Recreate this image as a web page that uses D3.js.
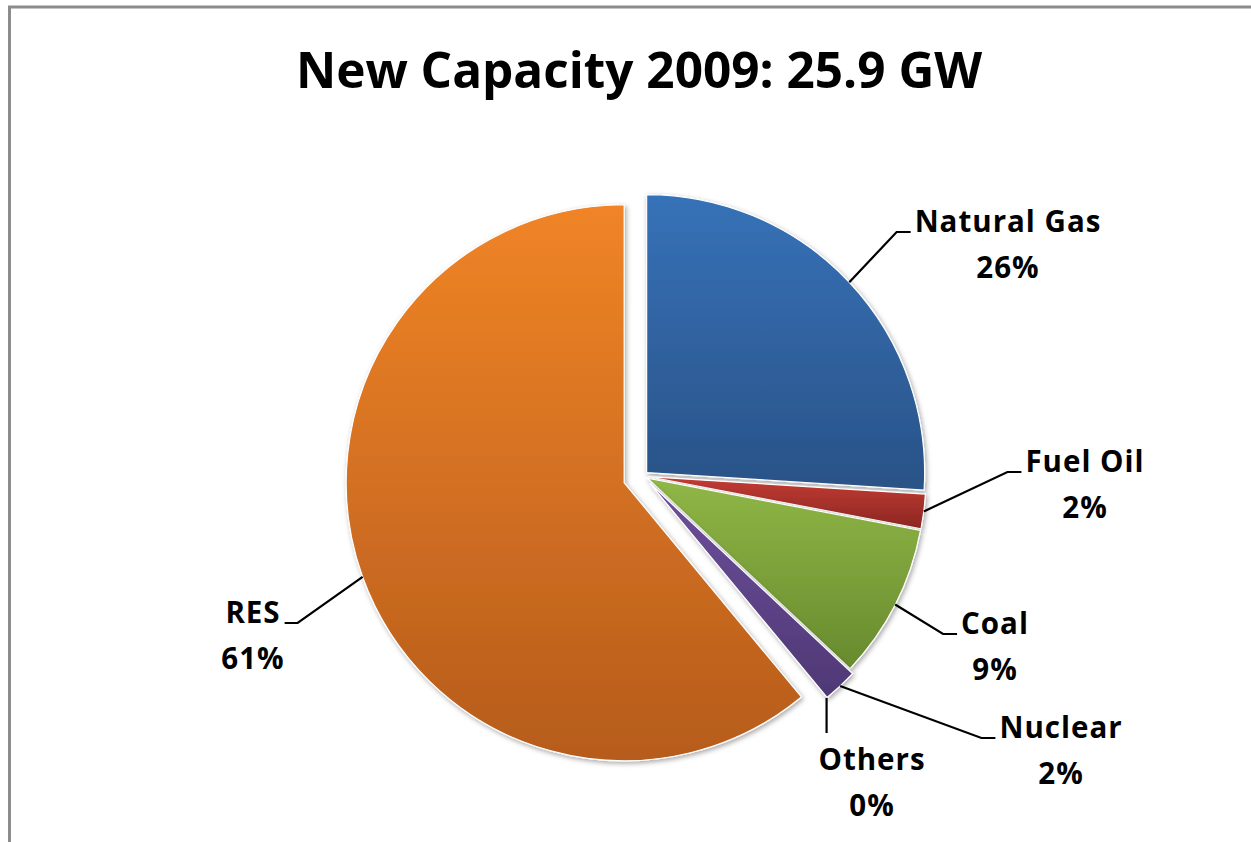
<!DOCTYPE html>
<html>
<head>
<meta charset="utf-8">
<script src="https://cdn.jsdelivr.net/npm/d3@7"></script>
<style>
    body { margin: 0; background: #fff; }
    #chart { width: 1251px; height: 842px; }
    .label { font-family: "Open Sans", Lato, sans-serif; font-weight: bold; fill: #000; }
    .slice-label text { font-size: 29.5px; letter-spacing: 1px; }
</style>
</head>
<body>
<div id="chart"></div>
<script>
// data
const categories = ["Natural Gas", "Fuel Oil", "Coal", "Nuclear", "Others", "RES"];
const shares = [26, 2, 9, 2, 0, 61];
const colorTop = ["#3672b8", "#c23c33", "#90b747", "#6d4f9c", "#6d4f9c", "#f08426"];
const colorBottom = ["#2a5287", "#8c2722", "#678a2d", "#4f3875", "#4f3875", "#b65c1d"];
const titleText = "New Capacity 2009: 25.9 GW";

// how far each slice is pulled out, and where its label sits (relative to pie centre)
const explode = [5, 5, 5, 10, 10, 20];
const labelOffset = [[365, -244], [442, -4], [352, 158], [418, 262], [229, 294], [-390, 147]];

class PieChart {
    constructor(parentElement) {
        this.parentElement = parentElement;
        this.initVis();
    }

    initVis() {
        let vis = this;

        vis.width = 1251;
        vis.height = 842;
        vis.radius = 278;
        vis.cx = 643;
        vis.cy = 476;

        vis.svg = d3.select("#" + vis.parentElement).append("svg")
            .attr("width", vis.width)
            .attr("height", vis.height);

        let defs = vis.svg.append("defs");

        categories.forEach(function(c, i) {
            let g = defs.append("linearGradient")
                .attr("id", "grad" + i)
                .attr("x1", 0).attr("y1", 0)
                .attr("x2", 0).attr("y2", 1);
            g.append("stop").attr("offset", "0%").attr("stop-color", colorTop[i]);
            g.append("stop").attr("offset", "100%").attr("stop-color", colorBottom[i]);
        });

        let shadow = defs.append("filter")
            .attr("id", "shadow")
            .attr("x", "-10%").attr("y", "-10%")
            .attr("width", "120%").attr("height", "120%");
        shadow.append("feDropShadow")
            .attr("dx", 1.5).attr("dy", 2)
            .attr("stdDeviation", 2.5)
            .attr("flood-color", "#000")
            .attr("flood-opacity", 0.35);

        // chart frame (left + top edge only are visible)
        vis.svg.append("path")
            .attr("d", "M9.5,842 V7 H1251")
            .attr("fill", "none")
            .attr("stroke", "#8c8c8c")
            .attr("stroke-width", 3);

        vis.svg.append("text")
            .attr("class", "label")
            .attr("x", 639)
            .attr("y", 88)
            .attr("text-anchor", "middle")
            .style("font-size", "49.5px")
            .text(titleText);

        vis.pie = d3.pie().sort(null).value(d => d.value);
        vis.arc = d3.arc().innerRadius(0).outerRadius(vis.radius);

        vis.pieG = vis.svg.append("g")
            .attr("transform", `translate(${vis.cx},${vis.cy})`);

        this.wrangleData();
    }

    wrangleData() {
        let vis = this;

        vis.displayData = categories.map(function(c, i) {
            return {index: i, name: c, value: shares[i]};
        });

        this.updateVis();
    }

    updateVis() {
        let vis = this;
        let arcs = vis.pie(vis.displayData);

        // offset for exploded slice
        function shift(d) {
            let mid = (d.startAngle + d.endAngle) / 2;
            let e = explode[d.data.index];
            return [Math.sin(mid) * e, -Math.cos(mid) * e];
        }

        vis.pieG.selectAll(".slice")
            .data(arcs.filter(d => d.value > 0))
            .enter().append("path")
            .attr("class", "slice")
            .attr("transform", d => "translate(" + shift(d) + ")")
            .attr("d", vis.arc)
            .attr("fill", d => "url(#grad" + d.data.index + ")")
            .attr("stroke", "#fff")
            .attr("stroke-width", 1.2)
            .attr("filter", "url(#shadow)");

        let labels = vis.pieG.selectAll(".slice-label")
            .data(arcs)
            .enter().append("g")
            .attr("class", "slice-label");

        labels.each(function(d) {
            let g = d3.select(this);
            let i = d.data.index;
            let lx = labelOffset[i][0], ly = labelOffset[i][1];

            let t1 = g.append("text")
                .attr("class", "label")
                .attr("x", lx).attr("y", ly)
                .attr("text-anchor", "middle")
                .text(d.data.name);
            g.append("text")
                .attr("class", "label")
                .attr("x", lx).attr("y", ly + 46)
                .attr("text-anchor", "middle")
                .text(d3.format(".0f")(d.data.value) + "%");

            let w = t1.node().getComputedTextLength();
            let mid = (d.startAngle + d.endAngle) / 2;
            let s = shift(d);
            let start = [s[0] + Math.sin(mid) * vis.radius, s[1] - Math.cos(mid) * vis.radius];
            let pts;
            if (d.data.name === "Others") {
                // straight down to just above the label
                pts = [start, [start[0], ly - 37]];
            } else if (lx < 0) {
                let end = [lx + w / 2 + 4, ly];
                pts = [start, [end[0] + 13, ly], end];
            } else {
                let end = [lx - w / 2 - 4, ly];
                pts = [start, [end[0] - 14, ly], end];
            }
            g.insert("path", "text")
                .attr("d", d3.line()(pts))
                .attr("fill", "none")
                .attr("stroke", "#000")
                .attr("stroke-width", 2.2);
        });
    }
}

new PieChart("chart");
</script>
</body>
</html>
